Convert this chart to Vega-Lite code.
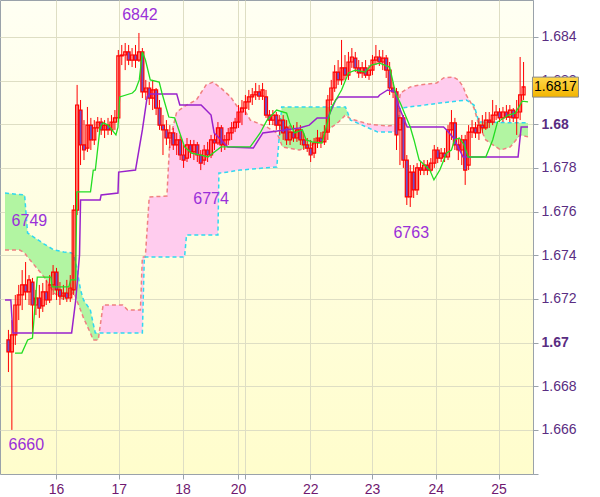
{
"$schema": "https://vega.github.io/schema/vega-lite/v6.json",
"width": 533, "height": 474, "padding": {"left": 0, "top": 0, "right": 67, "bottom": 23}, "autosize": {"type": "none"},
"background": "white",
"view": {"fill": {"gradient": "linear", "x1": 0, "y1": 0, "x2": 0, "y2": 1, "stops": [{"offset": 0, "color": "#FFFFF3"}, {"offset": 1, "color": "#FFFDCC"}]}, "stroke": "#9AA2AA", "strokeWidth": 1},
"config": {"axis": {"labelFont": "Liberation Sans", "labelFontSize": 14, "domainColor": "#9AA2AA", "tickColor": "#9AA2AA", "tickSize": 5, "labelPadding": 3, "gridColor": "#DEDEC4", "gridWidth": 1, "zindex": 0}},
"datasets": {
"candles": [
{"i":1,"o":1.67012,"h":1.67058,"l":1.66865,"c":1.66957},
{"i":2,"o":1.66957,"h":1.67103,"l":1.66600,"c":1.67035},
{"i":3,"o":1.67035,"h":1.67218,"l":1.66989,"c":1.67172},
{"i":4,"o":1.67172,"h":1.67264,"l":1.67103,"c":1.67218},
{"i":5,"o":1.67218,"h":1.67332,"l":1.67149,"c":1.67264},
{"i":6,"o":1.67264,"h":1.67369,"l":1.67195,"c":1.67232},
{"i":7,"o":1.67232,"h":1.67309,"l":1.67172,"c":1.67287},
{"i":8,"o":1.67277,"h":1.67296,"l":1.67044,"c":1.67172},
{"i":9,"o":1.67172,"h":1.67241,"l":1.67126,"c":1.67204},
{"i":10,"o":1.67204,"h":1.67264,"l":1.67113,"c":1.67158},
{"i":11,"o":1.67168,"h":1.67273,"l":1.67140,"c":1.67232},
{"i":12,"o":1.67232,"h":1.67287,"l":1.67172,"c":1.67195},
{"i":13,"o":1.67195,"h":1.67309,"l":1.67181,"c":1.67264},
{"i":14,"o":1.67264,"h":1.67355,"l":1.67218,"c":1.67323},
{"i":15,"o":1.67323,"h":1.67342,"l":1.67195,"c":1.67241},
{"i":16,"o":1.67241,"h":1.67277,"l":1.67172,"c":1.67213},
{"i":17,"o":1.67213,"h":1.67264,"l":1.67195,"c":1.67227},
{"i":18,"o":1.67227,"h":1.67287,"l":1.67186,"c":1.67204},
{"i":19,"o":1.67204,"h":1.67309,"l":1.67186,"c":1.67250},
{"i":20,"o":1.67241,"h":1.67630,"l":1.67218,"c":1.67607},
{"i":21,"o":1.67607,"h":1.68180,"l":1.67584,"c":1.68088},
{"i":22,"o":1.68065,"h":1.68111,"l":1.67813,"c":1.67905},
{"i":23,"o":1.67905,"h":1.68019,"l":1.67836,"c":1.67882},
{"i":24,"o":1.67891,"h":1.68079,"l":1.67873,"c":1.67996},
{"i":25,"o":1.67996,"h":1.68029,"l":1.67882,"c":1.67928},
{"i":26,"o":1.67928,"h":1.68019,"l":1.67905,"c":1.67983},
{"i":27,"o":1.67983,"h":1.68033,"l":1.67964,"c":1.68010},
{"i":28,"o":1.68010,"h":1.68029,"l":1.67951,"c":1.67974},
{"i":29,"o":1.67974,"h":1.68019,"l":1.67937,"c":1.67996},
{"i":30,"o":1.67996,"h":1.68029,"l":1.67951,"c":1.67974},
{"i":31,"o":1.67974,"h":1.68042,"l":1.67951,"c":1.68010},
{"i":32,"o":1.68010,"h":1.68065,"l":1.67974,"c":1.68029},
{"i":33,"o":1.68029,"h":1.68340,"l":1.68010,"c":1.68313},
{"i":34,"o":1.68313,"h":1.68363,"l":1.68271,"c":1.68317},
{"i":35,"o":1.68317,"h":1.68372,"l":1.68248,"c":1.68331},
{"i":36,"o":1.68331,"h":1.68363,"l":1.68271,"c":1.68294},
{"i":37,"o":1.68294,"h":1.68349,"l":1.68262,"c":1.68317},
{"i":38,"o":1.68317,"h":1.68363,"l":1.68258,"c":1.68294},
{"i":39,"o":1.68294,"h":1.68418,"l":1.68285,"c":1.68331},
{"i":40,"o":1.68331,"h":1.68349,"l":1.68120,"c":1.68148},
{"i":41,"o":1.68148,"h":1.68203,"l":1.68111,"c":1.68166},
{"i":42,"o":1.68166,"h":1.68193,"l":1.68088,"c":1.68120},
{"i":43,"o":1.68120,"h":1.68203,"l":1.68065,"c":1.68157},
{"i":44,"o":1.68157,"h":1.68166,"l":1.68042,"c":1.68074},
{"i":45,"o":1.68074,"h":1.68111,"l":1.67974,"c":1.67996},
{"i":46,"o":1.67996,"h":1.68042,"l":1.67859,"c":1.67974},
{"i":47,"o":1.67974,"h":1.68019,"l":1.67905,"c":1.67937},
{"i":48,"o":1.67937,"h":1.67996,"l":1.67891,"c":1.67960},
{"i":49,"o":1.67960,"h":1.67983,"l":1.67882,"c":1.67905},
{"i":50,"o":1.67905,"h":1.67960,"l":1.67859,"c":1.67928},
{"i":51,"o":1.67928,"h":1.67951,"l":1.67836,"c":1.67859},
{"i":52,"o":1.67859,"h":1.67905,"l":1.67800,"c":1.67836},
{"i":53,"o":1.67845,"h":1.67937,"l":1.67827,"c":1.67905},
{"i":54,"o":1.67905,"h":1.67928,"l":1.67845,"c":1.67873},
{"i":55,"o":1.67873,"h":1.67928,"l":1.67836,"c":1.67905},
{"i":56,"o":1.67905,"h":1.67919,"l":1.67827,"c":1.67859},
{"i":57,"o":1.67859,"h":1.67882,"l":1.67790,"c":1.67822},
{"i":58,"o":1.67836,"h":1.67905,"l":1.67813,"c":1.67882},
{"i":59,"o":1.67882,"h":1.67919,"l":1.67827,"c":1.67859},
{"i":60,"o":1.67859,"h":1.67951,"l":1.67845,"c":1.67928},
{"i":61,"o":1.67928,"h":1.67960,"l":1.67882,"c":1.67914},
{"i":62,"o":1.67914,"h":1.68010,"l":1.67905,"c":1.67983},
{"i":63,"o":1.67983,"h":1.67996,"l":1.67873,"c":1.67905},
{"i":64,"o":1.67905,"h":1.67951,"l":1.67882,"c":1.67928},
{"i":65,"o":1.67928,"h":1.67983,"l":1.67905,"c":1.67960},
{"i":66,"o":1.67960,"h":1.68010,"l":1.67928,"c":1.67983},
{"i":67,"o":1.67983,"h":1.68029,"l":1.67964,"c":1.68010},
{"i":68,"o":1.68010,"h":1.68088,"l":1.67983,"c":1.68056},
{"i":69,"o":1.68056,"h":1.68111,"l":1.67996,"c":1.68074},
{"i":70,"o":1.68074,"h":1.68134,"l":1.68042,"c":1.68102},
{"i":71,"o":1.68102,"h":1.68157,"l":1.68065,"c":1.68125},
{"i":72,"o":1.68125,"h":1.68166,"l":1.68088,"c":1.68134},
{"i":73,"o":1.68134,"h":1.68189,"l":1.68111,"c":1.68148},
{"i":74,"o":1.68148,"h":1.68180,"l":1.68111,"c":1.68129},
{"i":75,"o":1.68129,"h":1.68189,"l":1.68111,"c":1.68157},
{"i":76,"o":1.68125,"h":1.68157,"l":1.68029,"c":1.68042},
{"i":77,"o":1.68042,"h":1.68065,"l":1.67996,"c":1.68019},
{"i":78,"o":1.68019,"h":1.68065,"l":1.67996,"c":1.68042},
{"i":79,"o":1.68042,"h":1.68056,"l":1.67974,"c":1.67996},
{"i":80,"o":1.67996,"h":1.68042,"l":1.67951,"c":1.68019},
{"i":81,"o":1.68019,"h":1.68042,"l":1.67928,"c":1.67960},
{"i":82,"o":1.67987,"h":1.68019,"l":1.67905,"c":1.67928},
{"i":83,"o":1.67928,"h":1.67996,"l":1.67905,"c":1.67964},
{"i":84,"o":1.67964,"h":1.67996,"l":1.67919,"c":1.67937},
{"i":85,"o":1.67937,"h":1.68010,"l":1.67919,"c":1.67974},
{"i":86,"o":1.67974,"h":1.67996,"l":1.67905,"c":1.67928},
{"i":87,"o":1.67928,"h":1.67960,"l":1.67882,"c":1.67905},
{"i":88,"o":1.67905,"h":1.67937,"l":1.67873,"c":1.67891},
{"i":89,"o":1.67891,"h":1.67928,"l":1.67827,"c":1.67859},
{"i":90,"o":1.67868,"h":1.67937,"l":1.67845,"c":1.67914},
{"i":91,"o":1.67914,"h":1.67974,"l":1.67891,"c":1.67937},
{"i":92,"o":1.67937,"h":1.67964,"l":1.67891,"c":1.67919},
{"i":93,"o":1.67919,"h":1.67996,"l":1.67905,"c":1.67964},
{"i":94,"o":1.67964,"h":1.68134,"l":1.67928,"c":1.68111},
{"i":95,"o":1.68111,"h":1.68203,"l":1.68088,"c":1.68166},
{"i":96,"o":1.68166,"h":1.68271,"l":1.68148,"c":1.68239},
{"i":97,"o":1.68239,"h":1.68294,"l":1.68180,"c":1.68203},
{"i":98,"o":1.68203,"h":1.68386,"l":1.68180,"c":1.68258},
{"i":99,"o":1.68258,"h":1.68317,"l":1.68203,"c":1.68225},
{"i":100,"o":1.68225,"h":1.68331,"l":1.68203,"c":1.68285},
{"i":101,"o":1.68285,"h":1.68349,"l":1.68258,"c":1.68308},
{"i":102,"o":1.68303,"h":1.68331,"l":1.68239,"c":1.68258},
{"i":103,"o":1.68258,"h":1.68294,"l":1.68212,"c":1.68235},
{"i":104,"o":1.68235,"h":1.68285,"l":1.68212,"c":1.68258},
{"i":105,"o":1.68258,"h":1.68294,"l":1.68212,"c":1.68225},
{"i":106,"o":1.68225,"h":1.68271,"l":1.68203,"c":1.68248},
{"i":107,"o":1.68248,"h":1.68317,"l":1.68225,"c":1.68294},
{"i":108,"o":1.68294,"h":1.68363,"l":1.68271,"c":1.68308},
{"i":109,"o":1.68308,"h":1.68340,"l":1.68267,"c":1.68285},
{"i":110,"o":1.68285,"h":1.68340,"l":1.68248,"c":1.68303},
{"i":111,"o":1.68303,"h":1.68317,"l":1.68212,"c":1.68248},
{"i":112,"o":1.68248,"h":1.68285,"l":1.68134,"c":1.68166},
{"i":113,"o":1.68166,"h":1.68193,"l":1.68120,"c":1.68148},
{"i":114,"o":1.68148,"h":1.68166,"l":1.67882,"c":1.67951},
{"i":115,"o":1.67974,"h":1.68065,"l":1.67813,"c":1.68029},
{"i":116,"o":1.68029,"h":1.68042,"l":1.67800,"c":1.67836},
{"i":117,"o":1.67836,"h":1.67859,"l":1.67630,"c":1.67667},
{"i":118,"o":1.67667,"h":1.67813,"l":1.67621,"c":1.67781},
{"i":119,"o":1.67781,"h":1.67813,"l":1.67662,"c":1.67699},
{"i":120,"o":1.67699,"h":1.67822,"l":1.67676,"c":1.67800},
{"i":121,"o":1.67800,"h":1.67827,"l":1.67767,"c":1.67790},
{"i":122,"o":1.67790,"h":1.67836,"l":1.67767,"c":1.67813},
{"i":123,"o":1.67813,"h":1.67836,"l":1.67767,"c":1.67790},
{"i":124,"o":1.67790,"h":1.67845,"l":1.67781,"c":1.67822},
{"i":125,"o":1.67822,"h":1.67905,"l":1.67800,"c":1.67882},
{"i":126,"o":1.67882,"h":1.67896,"l":1.67822,"c":1.67845},
{"i":127,"o":1.67845,"h":1.67891,"l":1.67827,"c":1.67868},
{"i":128,"o":1.67868,"h":1.67891,"l":1.67827,"c":1.67850},
{"i":129,"o":1.67850,"h":1.67996,"l":1.67836,"c":1.67974},
{"i":130,"o":1.67974,"h":1.68065,"l":1.67928,"c":1.68006},
{"i":131,"o":1.68006,"h":1.68029,"l":1.67882,"c":1.67905},
{"i":132,"o":1.67905,"h":1.67937,"l":1.67836,"c":1.67882},
{"i":133,"o":1.67882,"h":1.67951,"l":1.67813,"c":1.67928},
{"i":134,"o":1.67928,"h":1.67951,"l":1.67722,"c":1.67790},
{"i":135,"o":1.67813,"h":1.67996,"l":1.67790,"c":1.67964},
{"i":136,"o":1.67964,"h":1.68019,"l":1.67937,"c":1.67983},
{"i":137,"o":1.67983,"h":1.68010,"l":1.67937,"c":1.67960},
{"i":138,"o":1.67960,"h":1.68029,"l":1.67928,"c":1.67996},
{"i":139,"o":1.67996,"h":1.68042,"l":1.67960,"c":1.67983},
{"i":140,"o":1.67983,"h":1.68056,"l":1.67974,"c":1.68019},
{"i":141,"o":1.68019,"h":1.68056,"l":1.67983,"c":1.68010},
{"i":142,"o":1.68010,"h":1.68111,"l":1.67996,"c":1.68042},
{"i":143,"o":1.68042,"h":1.68088,"l":1.68019,"c":1.68056},
{"i":144,"o":1.68056,"h":1.68074,"l":1.68010,"c":1.68029},
{"i":145,"o":1.68029,"h":1.68079,"l":1.68010,"c":1.68056},
{"i":146,"o":1.68056,"h":1.68088,"l":1.68019,"c":1.68033},
{"i":147,"o":1.68033,"h":1.68088,"l":1.68010,"c":1.68065},
{"i":148,"o":1.68065,"h":1.68074,"l":1.68010,"c":1.68029},
{"i":149,"o":1.68029,"h":1.68111,"l":1.67951,"c":1.68056},
{"i":150,"o":1.68056,"h":1.68308,"l":1.68019,"c":1.68134},
{"i":151,"o":1.68134,"h":1.68285,"l":1.68111,"c":1.68171}
],
"tenkan": [
{"i":2.9,"v":1.66952},{"i":4.9,"v":1.66952},{"i":6.6,"v":1.67012},{"i":8.0,"v":1.67021},{"i":9.4,"v":1.673},{"i":13.4,"v":1.673},{"i":13.7,"v":1.67255},{"i":18.6,"v":1.67255},{"i":19.1,"v":1.67287},{"i":20.6,"v":1.67287},{"i":20.9,"v":1.6769},{"i":24.9,"v":1.6769},{"i":25.7,"v":1.6779},{"i":26.3,"v":1.6779},{"i":27.7,"v":1.67987},{"i":28.6,"v":1.68006},{"i":30.0,"v":1.67996},{"i":32.3,"v":1.67951},{"i":32.9,"v":1.67987},{"i":33.4,"v":1.68125},{"i":37.1,"v":1.68143},{"i":38.0,"v":1.68157},{"i":39.1,"v":1.68203},{"i":40.0,"v":1.68331},{"i":40.9,"v":1.68294},{"i":42.3,"v":1.68203},{"i":44.9,"v":1.68193},{"i":45.7,"v":1.68143},{"i":47.7,"v":1.68033},{"i":49.4,"v":1.68029},{"i":50.9,"v":1.6796},{"i":52.3,"v":1.67896},{"i":54.3,"v":1.67868},{"i":57.1,"v":1.67859},{"i":59.1,"v":1.6785},{"i":62.9,"v":1.67896},{"i":71.4,"v":1.67896},{"i":74.3,"v":1.6796},{"i":76.3,"v":1.68019},{"i":79.1,"v":1.68065},{"i":82.0,"v":1.68051},{"i":82.9,"v":1.68006},{"i":84.3,"v":1.6796},{"i":86.6,"v":1.67974},{"i":87.7,"v":1.67928},{"i":89.4,"v":1.67919},{"i":92.3,"v":1.67914},{"i":95.1,"v":1.68079},{"i":96.3,"v":1.68111},{"i":98.0,"v":1.68157},{"i":100.0,"v":1.68235},{"i":102.0,"v":1.68248},{"i":104.9,"v":1.68239},{"i":106.6,"v":1.68271},{"i":109.1,"v":1.6828},{"i":112.0,"v":1.68262},{"i":113.7,"v":1.68143},{"i":115.1,"v":1.68097},{"i":118.0,"v":1.67987},{"i":119.1,"v":1.67928},{"i":120.6,"v":1.67836},{"i":123.7,"v":1.6779},{"i":124.9,"v":1.67745},{"i":126.6,"v":1.6779},{"i":128.6,"v":1.67868},{"i":130.0,"v":1.67882},{"i":130.9,"v":1.67928},{"i":132.3,"v":1.67937},{"i":133.7,"v":1.67905},{"i":134.9,"v":1.6785},{"i":140.0,"v":1.6785},{"i":142.0,"v":1.67928},{"i":143.4,"v":1.6801},{"i":146.6,"v":1.68042},{"i":148.6,"v":1.68051},{"i":150.6,"v":1.68106},{"i":152.3,"v":1.68102}
],
"kijun": [
{"i":0,"v":1.67195},{"i":1.7,"v":1.67195},{"i":2.3,"v":1.67044},{"i":19.4,"v":1.67044},{"i":20.6,"v":1.67195},{"i":21.7,"v":1.67401},{"i":22.0,"v":1.67653},{"i":27.7,"v":1.67653},{"i":28.0,"v":1.67676},{"i":32.9,"v":1.67685},{"i":33.1,"v":1.67781},{"i":38.0,"v":1.6779},{"i":40.0,"v":1.67974},{"i":41.4,"v":1.68125},{"i":42.0,"v":1.68139},{"i":50.0,"v":1.68139},{"i":50.9,"v":1.68088},{"i":57.1,"v":1.68088},{"i":60.0,"v":1.68042},{"i":60.9,"v":1.6796},{"i":64.9,"v":1.67896},{"i":72.3,"v":1.67891},{"i":75.1,"v":1.6796},{"i":85.7,"v":1.67983},{"i":88.6,"v":1.67996},{"i":90.9,"v":1.68029},{"i":94.0,"v":1.68029},{"i":96.3,"v":1.68111},{"i":97.1,"v":1.68125},{"i":108.6,"v":1.68125},{"i":109.1,"v":1.68134},{"i":111.4,"v":1.68157},{"i":113.7,"v":1.68148},{"i":114.3,"v":1.68097},{"i":117.1,"v":1.67987},{"i":127.7,"v":1.67987},{"i":128.6,"v":1.67974},{"i":130.6,"v":1.67937},{"i":133.4,"v":1.6785},{"i":149.4,"v":1.6785},{"i":150.3,"v":1.67987},{"i":152.3,"v":1.67987}
],
"cloud": [
{"i":0,"a":1.67685,"b":1.67424,"seg":"g1","k":"up"},
{"i":4.29,"a":1.67678,"b":1.67424,"seg":"g1","k":"up"},
{"i":5.71,"a":1.67676,"b":1.6741,"seg":"g1","k":"up"},
{"i":6.57,"a":1.67502,"b":1.67392,"seg":"g1","k":"up"},
{"i":11.43,"a":1.67451,"b":1.673,"seg":"g1","k":"up"},
{"i":14.29,"a":1.67424,"b":1.67227,"seg":"g1","k":"up"},
{"i":17.14,"a":1.67415,"b":1.67195,"seg":"g1","k":"up"},
{"i":18.57,"a":1.67413,"b":1.67209,"seg":"g1","k":"up"},
{"i":19.43,"a":1.6741,"b":1.67222,"seg":"g1","k":"up"},
{"i":20.0,"a":1.67401,"b":1.67232,"seg":"g1","k":"up"},
{"i":20.57,"a":1.67364,"b":1.67209,"seg":"g1","k":"up"},
{"i":20.86,"a":1.67346,"b":1.67195,"seg":"g1","k":"up"},
{"i":22.0,"a":1.67241,"b":1.67149,"seg":"g1","k":"up"},
{"i":22.86,"a":1.67195,"b":1.67113,"seg":"g1","k":"up"},
{"i":24.86,"a":1.67149,"b":1.67044,"seg":"g1","k":"up"},
{"i":25.71,"a":1.67085,"b":1.67012,"seg":"g1","k":"up"},
{"i":26.29,"a":1.67044,"b":1.67012,"seg":"g1","k":"up"},
{"i":27.14,"a":1.67044,"b":1.67012,"seg":"g1","k":"up"},
{"i":27.43,"a":1.67044,"b":1.67044,"seg":"g1","k":"up"},
{"i":27.43,"a":1.67044,"b":1.67044,"seg":"p1","k":"dn"},
{"i":28.57,"a":1.67044,"b":1.67172,"seg":"p1","k":"dn"},
{"i":34.29,"a":1.67044,"b":1.67172,"seg":"p1","k":"dn"},
{"i":35.71,"a":1.67044,"b":1.67149,"seg":"p1","k":"dn"},
{"i":39.43,"a":1.67044,"b":1.67149,"seg":"p1","k":"dn"},
{"i":40.0,"a":1.67044,"b":1.67392,"seg":"p1","k":"dn"},
{"i":40.57,"a":1.67392,"b":1.67392,"seg":"p1","k":"dn"},
{"i":40.86,"a":1.67392,"b":1.67392,"seg":"p1","k":"dn"},
{"i":42.0,"a":1.67392,"b":1.67667,"seg":"p1","k":"dn"},
{"i":47.14,"a":1.67392,"b":1.67671,"seg":"p1","k":"dn"},
{"i":48.0,"a":1.67392,"b":1.67928,"seg":"p1","k":"dn"},
{"i":50.0,"a":1.67392,"b":1.68056,"seg":"p1","k":"dn"},
{"i":52.29,"a":1.67392,"b":1.68082,"seg":"p1","k":"dn"},
{"i":52.86,"a":1.67493,"b":1.68088,"seg":"p1","k":"dn"},
{"i":55.71,"a":1.67493,"b":1.68111,"seg":"p1","k":"dn"},
{"i":58.57,"a":1.67493,"b":1.6818,"seg":"p1","k":"dn"},
{"i":60.57,"a":1.67493,"b":1.68193,"seg":"p1","k":"dn"},
{"i":62.0,"a":1.67493,"b":1.68176,"seg":"p1","k":"dn"},
{"i":62.29,"a":1.67777,"b":1.68173,"seg":"p1","k":"dn"},
{"i":62.86,"a":1.67777,"b":1.68166,"seg":"p1","k":"dn"},
{"i":65.71,"a":1.67783,"b":1.68125,"seg":"p1","k":"dn"},
{"i":67.71,"a":1.67789,"b":1.68079,"seg":"p1","k":"dn"},
{"i":68.57,"a":1.6779,"b":1.68077,"seg":"p1","k":"dn"},
{"i":69.43,"a":1.67791,"b":1.68074,"seg":"p1","k":"dn"},
{"i":71.43,"a":1.67794,"b":1.68019,"seg":"p1","k":"dn"},
{"i":73.43,"a":1.67797,"b":1.68006,"seg":"p1","k":"dn"},
{"i":76.29,"a":1.67801,"b":1.67987,"seg":"p1","k":"dn"},
{"i":79.14,"a":1.67804,"b":1.6796,"seg":"p1","k":"dn"},
{"i":79.83,"a":1.67936,"b":1.67936,"seg":"p1","k":"dn"},
{"i":79.83,"a":1.67936,"b":1.67936,"seg":"g2","k":"up"},
{"i":80.57,"a":1.68079,"b":1.67906,"seg":"g2","k":"up"},
{"i":80.86,"a":1.68079,"b":1.67896,"seg":"g2","k":"up"},
{"i":85.71,"a":1.68079,"b":1.67882,"seg":"g2","k":"up"},
{"i":88.57,"a":1.68079,"b":1.67896,"seg":"g2","k":"up"},
{"i":91.43,"a":1.68079,"b":1.67928,"seg":"g2","k":"up"},
{"i":95.14,"a":1.68079,"b":1.67987,"seg":"g2","k":"up"},
{"i":97.14,"a":1.68079,"b":1.6801,"seg":"g2","k":"up"},
{"i":99.14,"a":1.68079,"b":1.68042,"seg":"g2","k":"up"},
{"i":100.4,"a":1.68027,"b":1.68027,"seg":"g2","k":"up"},
{"i":100.4,"a":1.68027,"b":1.68027,"seg":"p2","k":"dn"},
{"i":100.57,"a":1.68019,"b":1.68024,"seg":"p2","k":"dn"},
{"i":102.86,"a":1.68004,"b":1.68015,"seg":"p2","k":"dn"},
{"i":105.71,"a":1.67984,"b":1.68001,"seg":"p2","k":"dn"},
{"i":108.57,"a":1.67964,"b":1.67996,"seg":"p2","k":"dn"},
{"i":111.43,"a":1.67964,"b":1.67992,"seg":"p2","k":"dn"},
{"i":113.71,"a":1.67964,"b":1.67996,"seg":"p2","k":"dn"},
{"i":115.14,"a":1.68074,"b":1.68143,"seg":"p2","k":"dn"},
{"i":118.0,"a":1.6808,"b":1.68171,"seg":"p2","k":"dn"},
{"i":120.86,"a":1.68085,"b":1.6818,"seg":"p2","k":"dn"},
{"i":125.71,"a":1.68095,"b":1.68189,"seg":"p2","k":"dn"},
{"i":127.71,"a":1.68099,"b":1.68212,"seg":"p2","k":"dn"},
{"i":130.57,"a":1.68104,"b":1.68216,"seg":"p2","k":"dn"},
{"i":132.0,"a":1.68107,"b":1.68203,"seg":"p2","k":"dn"},
{"i":133.43,"a":1.68109,"b":1.68171,"seg":"p2","k":"dn"},
{"i":134.29,"a":1.68111,"b":1.68134,"seg":"p2","k":"dn"},
{"i":135.71,"a":1.68097,"b":1.68097,"seg":"p2","k":"dn"},
{"i":135.71,"a":1.68097,"b":1.68097,"seg":"g3","k":"up"},
{"i":136.57,"a":1.68088,"b":1.68074,"seg":"g3","k":"up"},
{"i":138.0,"a":1.6801,"b":1.67996,"seg":"g3","k":"up"},
{"i":140.0,"a":1.6801,"b":1.67928,"seg":"g3","k":"up"},
{"i":144.29,"a":1.68008,"b":1.67882,"seg":"g3","k":"up"},
{"i":147.14,"a":1.68007,"b":1.67896,"seg":"g3","k":"up"},
{"i":150.0,"a":1.68007,"b":1.67951,"seg":"g3","k":"up"},
{"i":152.29,"a":1.68006,"b":1.67942,"seg":"g3","k":"up"}
],
"labels": [
{"i":39.3,"p":1.685,"t":"6842"},
{"i":7.1,"p":1.67557,"t":"6749"},
{"i":60,"p":1.67658,"t":"6774"},
{"i":118.3,"p":1.67502,"t":"6763"},
{"i":6.2,"p":1.66531,"t":"6660"}
],
"last": [{"i":160.29,"p":1.6817,"t":"1.6817"}]
},
"layer": [
{"data": {"name": "cloud"}, "mark": {"type": "area", "opacity": 1},
 "encoding": {
  "x": {"field": "i", "type": "quantitative", "title": null, "scale": {"domain": [0, 152.29], "nice": false, "zero": false},
        "axis": {"orient": "bottom", "values": [14.86, 33.14, 51.71, 67.86, 70, 88.86, 106.86, 125.43, 143.71],
                 "labelExpr": "datum.value<20?'16':datum.value<40?'17':datum.value<60?'18':datum.value<69?'20':datum.value<80?'':datum.value<100?'22':datum.value<115?'23':datum.value<135?'24':'25'",
                 "labelColor": "#701870", "grid": true, "labelOverlap": false, "labelFlush": false, "labelBound": false}},
  "y": {"field": "a", "type": "quantitative", "title": null, "stack": null, "scale": {"domain": [1.66398, 1.68569], "nice": false, "zero": false},
        "axis": {"orient": "right", "values": [1.664,1.665,1.666,1.667,1.668,1.669,1.67,1.671,1.672,1.673,1.674,1.675,1.676,1.677,1.678,1.679,1.68,1.681,1.682,1.683,1.684,1.685],
                 "labelExpr": "datum.value > 1.6645 && round(datum.value*1000)%2==0 ? format(datum.value, '.3~f') : ''",
                 "labelFontWeight": {"condition": {"test": "abs(datum.value*100-round(datum.value*100))<0.0001", "value": "bold"}, "value": "normal"},
                 "gridOpacity": {"condition": {"test": "round(datum.value*1000)%2==0", "value": 1}, "value": 0},
                 "labelColor": "#5A2D82", "grid": true, "labelOverlap": false, "labelBound": false}},
  "y2": {"field": "b"},
  "color": {"field": "k", "type": "nominal", "scale": {"domain": ["up", "dn"], "range": ["#B2F5A2", "#FFCCEE"]}, "legend": null},
  "detail": {"field": "seg"}
 }},
{"data": {"name": "cloud"}, "mark": {"type": "line", "color": "#F08080", "strokeWidth": 1.5, "strokeDash": [4, 3]},
 "encoding": {"x": {"field": "i", "type": "quantitative", "title": null}, "y": {"field": "b", "type": "quantitative", "title": null}}},
{"data": {"name": "cloud"}, "mark": {"type": "line", "color": "#30D8F0", "strokeWidth": 1.5, "strokeDash": [4, 3]},
 "encoding": {"x": {"field": "i", "type": "quantitative", "title": null}, "y": {"field": "a", "type": "quantitative", "title": null}}},
{"data": {"name": "candles"}, "mark": {"type": "rule", "color": "#FF0000", "strokeWidth": 1},
 "encoding": {"x": {"field": "i", "type": "quantitative", "title": null}, "y": {"field": "l", "type": "quantitative", "title": null}, "y2": {"field": "h"}}},
{"data": {"name": "candles"}, "mark": {"type": "bar", "width": 3, "stroke": "#FF0000", "strokeWidth": 1.2},
 "encoding": {"x": {"field": "i", "type": "quantitative", "title": null}, "y": {"field": "o", "type": "quantitative", "title": null}, "y2": {"field": "c"},
  "fill": {"condition": {"test": "datum.c < datum.o", "value": "#6F4FC8"}, "value": "transparent"}}},
{"data": {"name": "kijun"}, "mark": {"type": "line", "color": "#9922CC", "strokeWidth": 1.5},
 "encoding": {"x": {"field": "i", "type": "quantitative", "title": null}, "y": {"field": "v", "type": "quantitative", "title": null}}},
{"data": {"name": "tenkan"}, "mark": {"type": "line", "color": "#22DD22", "strokeWidth": 1.3},
 "encoding": {"x": {"field": "i", "type": "quantitative", "title": null}, "y": {"field": "v", "type": "quantitative", "title": null}}},
{"data": {"name": "labels"}, "mark": {"type": "text", "font": "Liberation Sans", "fontSize": 16, "color": "#9A30D8", "align": "center", "baseline": "middle"},
 "encoding": {"x": {"field": "i", "type": "quantitative", "title": null}, "y": {"field": "p", "type": "quantitative", "title": null}, "text": {"field": "t"}}},
{"data": {"name": "last"}, "mark": {"type": "rect", "width": 46, "height": 20, "stroke": "#8A8A8A", "strokeWidth": 1,
  "fill": {"gradient": "linear", "x1": 0, "y1": 0, "x2": 0, "y2": 1, "stops": [{"offset": 0, "color": "#FFD84A"}, {"offset": 1, "color": "#F2B400"}]}},
 "encoding": {"x": {"field": "i", "type": "quantitative", "title": null}, "y": {"field": "p", "type": "quantitative", "title": null}}},
{"data": {"name": "last"}, "mark": {"type": "text", "font": "Liberation Sans", "fontSize": 14, "color": "#000000", "align": "center", "baseline": "middle"},
 "encoding": {"x": {"field": "i", "type": "quantitative", "title": null}, "y": {"field": "p", "type": "quantitative", "title": null}, "text": {"field": "t"}}}
]
}
